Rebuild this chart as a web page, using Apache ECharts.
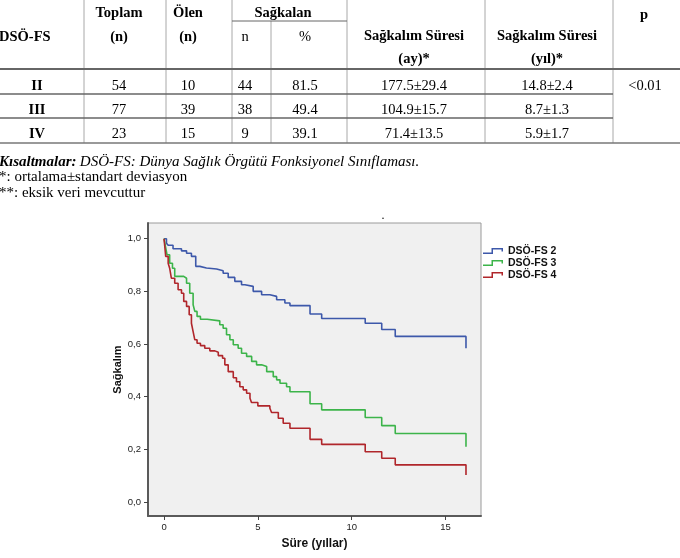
<!DOCTYPE html>
<html><head><meta charset="utf-8">
<script src="https://cdn.jsdelivr.net/npm/echarts@6/dist/echarts.min.js"></script>
<style>html,body{margin:0;padding:0;background:#fff}#c{width:680px;height:558px}</style>
</head><body><div id="c"></div>
<script>
// ---- table data ----
const classes = ['II', 'III', 'IV'];
const totalN = [54, 77, 23];
const diedN = [10, 39, 15];
const aliveN = [44, 38, 9];
const alivePct = ['81.5', '49.4', '39.1'];
const survMonths = ['177.5±29.4', '104.9±15.7', '71.4±13.5'];
const survYears = ['14.8±2.4', '8.7±1.3', '5.9±1.7'];
const pValue = '<0.01';

// ---- Kaplan-Meier curves ----
const seriesNames = ['DSÖ-FS 2', 'DSÖ-FS 3', 'DSÖ-FS 4'];
const fs2Time = [0, 0.13, 0.22, 0.48, 0.93, 1.20, 1.46, 1.69, 1.91, 2.26, 2.80, 3.15, 3.42, 3.77, 4.13, 4.31, 4.75, 5.20, 5.64, 6.00, 6.44, 6.71, 7.78, 8.40, 10.72, 11.60, 12.32, 16.09];
const fs2Surv = [1, 0.983, 0.975, 0.962, 0.954, 0.945, 0.933, 0.895, 0.889, 0.885, 0.878, 0.869, 0.853, 0.838, 0.825, 0.819, 0.800, 0.787, 0.781, 0.768, 0.756, 0.746, 0.714, 0.697, 0.679, 0.655, 0.629, 0.584];
const fs3Time = [0, 0.10, 0.16, 0.30, 0.45, 0.57, 1.05, 1.20, 1.37, 1.55, 1.64, 1.76, 1.94, 2.30, 2.97, 3.15, 3.33, 3.51, 3.69, 3.95, 4.13, 4.40, 4.67, 4.93, 5.20, 5.47, 5.82, 6.00, 6.18, 6.53, 6.71, 7.78, 8.40, 10.72, 11.60, 12.32, 16.09];
const fs3Surv = [1, 0.961, 0.939, 0.907, 0.888, 0.857, 0.850, 0.831, 0.793, 0.749, 0.724, 0.705, 0.694, 0.688, 0.673, 0.660, 0.635, 0.616, 0.597, 0.584, 0.565, 0.553, 0.534, 0.521, 0.515, 0.495, 0.476, 0.464, 0.451, 0.438, 0.419, 0.373, 0.350, 0.321, 0.290, 0.260, 0.210];
const fs4Time = [0, 0.09, 0.22, 0.30, 0.39, 0.57, 0.75, 0.93, 1.05, 1.20, 1.34, 1.46, 1.55, 1.64, 1.76, 1.94, 2.17, 2.44, 2.71, 2.89, 3.12, 3.24, 3.42, 3.69, 3.86, 4.04, 4.22, 4.40, 4.58, 4.66, 5.00, 5.64, 5.73, 6.09, 6.35, 6.71, 7.78, 8.40, 10.72, 11.60, 12.32, 16.09];
const fs4Surv = [1, 0.933, 0.907, 0.888, 0.850, 0.831, 0.806, 0.793, 0.762, 0.743, 0.711, 0.679, 0.647, 0.616, 0.603, 0.594, 0.584, 0.574, 0.569, 0.556, 0.546, 0.521, 0.495, 0.472, 0.457, 0.438, 0.426, 0.413, 0.394, 0.378, 0.365, 0.356, 0.340, 0.318, 0.299, 0.280, 0.238, 0.219, 0.191, 0.166, 0.141, 0.103];
const xTicks = [0, 5, 10, 15];
const yTicks = [0, 0.2, 0.4, 0.6, 0.8, 1.0];

const colors = ['#3d58aa', '#3cb44a', '#b0262b'];
const pairs = (t, s) => t.map((v, i) => [v, s[i]]);

// ---- table graphics ----
const SERIF = '"Liberation Serif", "Times New Roman", serif';
const g = [];
function txt(x, y, text, bold, opts) {
  g.push({
    type: 'text', silent: true,
    style: Object.assign({
      text: text, x: x, y: y, fill: '#000',
      font: (bold ? 'bold ' : '') + '14.5px ' + SERIF,
      textAlign: 'center', textVerticalAlign: 'middle'
    }, opts || {})
  });
}
function ln(x1, y1, x2, y2, color, w) {
  g.push({ type: 'line', silent: true, shape: { x1: x1, y1: y1, x2: x2, y2: y2 },
    style: { stroke: color, lineWidth: w } });
}
// vertical rules
[84, 166, 232, 347, 485, 613].forEach(x => ln(x, 0, x, 143, '#a8a8a8', 1));
ln(271, 21, 271, 143, '#a8a8a8', 1);
// horizontal rules
ln(232, 21, 347, 21, '#666', 1);
ln(0, 69, 680, 69, '#666', 1.8);
ln(0, 94, 613, 94, '#666', 1.4);
ln(0, 118, 613, 118, '#666', 1.4);
ln(0, 143, 680, 143, '#777', 1.4);
// header
txt(-1, 37, 'DSÖ-FS', true, { textAlign: 'left' });
txt(119, 13, 'Toplam', true); txt(119, 37, '(n)', true);
txt(188, 13, 'Ölen', true); txt(188, 37, '(n)', true);
txt(283, 13, 'Sağkalan', true);
txt(245, 37, 'n', false); txt(305, 37, '%', false);
txt(414, 36, 'Sağkalım Süresi', true); txt(414, 59, '(ay)*', true);
txt(547, 36, 'Sağkalım Süresi', true); txt(547, 59, '(yıl)*', true);
txt(644, 15, 'p', true);
// rows
const rowY = [86, 110, 134];
classes.forEach((c, i) => {
  const y = rowY[i];
  txt(37, y, c, true);
  txt(119, y, String(totalN[i]));
  txt(188, y, String(diedN[i]));
  txt(245, y, String(aliveN[i]));
  txt(305, y, alivePct[i]);
  txt(414, y, survMonths[i]);
  txt(547, y, survYears[i]);
});
txt(645, rowY[0], pValue);
// notes
g.push({ type: 'text', silent: true, style: {
  text: '{a|Kısaltmalar:} {b|DSÖ-FS: Dünya Sağlık Örgütü Fonksiyonel Sınıflaması.}',
  x: -1, y: 162, textAlign: 'left', textVerticalAlign: 'middle',
  rich: {
    a: { fontFamily: SERIF, fontSize: 15, fontWeight: 'bold', fontStyle: 'italic', fill: '#000' },
    b: { fontFamily: SERIF, fontSize: 15, fontStyle: 'italic', fill: '#000' }
  }
}});
txt(-1, 177, '*: ortalama±standart deviasyon', false, { textAlign: 'left', font: '15px ' + SERIF });
txt(-1, 193, '**: eksik veri mevcuttur', false, { textAlign: 'left', font: '15px ' + SERIF });
txt(383, 216, '.', false, { font: '12px ' + SERIF });

const SANS = '"Liberation Sans", Arial, sans-serif';
const chart = echarts.init(document.getElementById('c'), null, { renderer: 'canvas' });
chart.setOption({
  animation: false,
  backgroundColor: '#fff',
  graphic: g,
  grid: { left: 148, top: 223, right: 199, bottom: 42, show: true,
    backgroundColor: '#f0f0f0', borderColor: '#9a9a9a', borderWidth: 1,
    outerBoundsMode: 'none', containLabel: false },
  legend: {
    orient: 'vertical', left: 483, top: 245, padding: 0, itemWidth: 20, itemHeight: 6, itemGap: 0,
    icon: 'path://M0,4.5 L8.5,4.5 L8.5,0 L20,0 L20,3.5 L18.5,3.5 L18.5,1.5 L10,1.5 L10,6 L0,6 Z',
    textStyle: { fontFamily: SANS, fontSize: 10.5, fontWeight: 'bold', color: '#111', lineHeight: 12 },
    data: seriesNames
  },
  xAxis: {
    type: 'value', min: -0.854, max: 16.89,
    name: 'Süre (yıllar)', nameLocation: 'middle', nameGap: 22,
    nameTextStyle: { fontFamily: SANS, fontSize: 12, fontWeight: 'bold', color: '#111' },
    axisLine: { onZero: false, lineStyle: { color: '#5a5a5a', width: 2 } },
    axisTick: { show: true, length: 4, customValues: xTicks, lineStyle: { color: '#444' } },
    axisLabel: { customValues: xTicks, margin: 6, fontFamily: SANS, fontSize: 9.5, color: '#222' },
    splitLine: { show: false }
  },
  yAxis: {
    type: 'value', min: -0.0532, max: 1.0597,
    name: 'Sağkalım', nameLocation: 'middle', nameGap: 24,
    nameTextStyle: { fontFamily: SANS, fontSize: 11, fontWeight: 'bold', color: '#111' },
    axisLine: { show: true, onZero: false, lineStyle: { color: '#5a5a5a', width: 2 } },
    axisTick: { show: true, length: 4, customValues: yTicks, lineStyle: { color: '#444' } },
    axisLabel: { customValues: yTicks, margin: 7, fontFamily: SANS, fontSize: 9.5, color: '#222',
      formatter: v => v.toFixed(1).replace('.', ',') },
    splitLine: { show: false }
  },
  series: [
    { name: seriesNames[0], data: pairs(fs2Time, fs2Surv) },
    { name: seriesNames[1], data: pairs(fs3Time, fs3Surv) },
    { name: seriesNames[2], data: pairs(fs4Time, fs4Surv) }
  ].map((s, i) => Object.assign(s, {
    type: 'line', step: 'end', showSymbol: false, symbol: 'none',
    color: colors[i], itemStyle: { color: colors[i] },
    lineStyle: { color: colors[i], width: 1.6 }
  }))
});
</script></body></html>
